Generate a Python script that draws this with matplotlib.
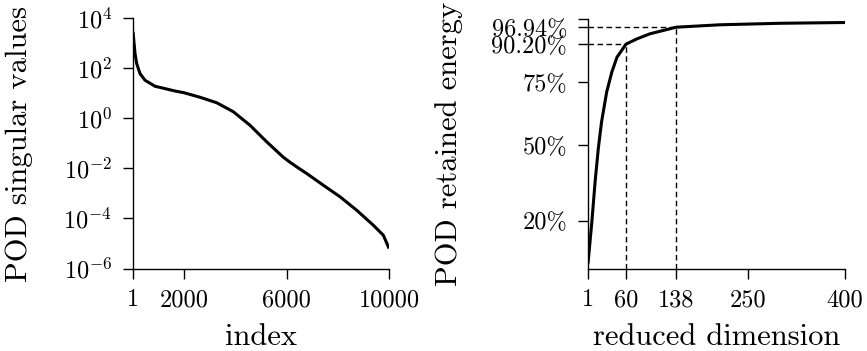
import numpy as np
import matplotlib
matplotlib.use('Agg')
import matplotlib.pyplot as plt
from matplotlib.ticker import FixedLocator, NullLocator

plt.rcParams['font.family'] = 'cmr10'
plt.rcParams['mathtext.fontset'] = 'cm'
plt.rcParams['axes.formatter.use_mathtext'] = True

# singular values
sv_index = [1, 80, 145, 273, 470, 860, 1640, 2000, 2617, 3270, 3920, 4570, 5222,
            5872, 6133, 6458, 6784, 7435, 8086, 8738, 9389, 9779, 9948, 10000]
sv_value = [2950, 398, 158, 63.1, 33.9, 19.5, 12.6, 10.7, 7.08, 4.27, 1.86, 0.537, 0.117,
            0.0282, 0.0178, 0.0105, 6.31e-3, 2.14e-3, 7.41e-4, 2.14e-4, 5.37e-5,
            2.14e-5, 8.51e-6, 6.31e-6]

# retained energy
red_dim = [1, 7, 12, 17, 22, 30, 38, 46, 60, 77, 97, 138, 206, 300, 400]
energy = [0.03, 0.196, 0.354, 0.487, 0.592, 0.712, 0.791, 0.85, 0.902, 0.923,
          0.943, 0.9694, 0.979, 0.985, 0.988]

mark_dim = [60, 138]
mark_energy = [0.902, 0.9694]

left_xticks = [1, 2000, 6000, 10000]
right_xticks = [1, 60, 138, 250, 400]
right_yticks = [0.2, 0.5, 0.75, 0.902, 0.9694, 1.0]
right_ylabels = ['20%', '50%', '75%', '90.20%', '96.94%', '']

fig = plt.figure(figsize=(8.67, 3.51), dpi=100)
ax1 = fig.add_axes([133/867, 82.5/351, 256/867, 250/351])
ax2 = fig.add_axes([588/867, 82.5/351, 257/867, 249/351])

for ax in (ax1, ax2):
    ax.spines['top'].set_visible(False)
    ax.spines['right'].set_visible(False)
    ax.spines['left'].set_linewidth(1.0)
    ax.spines['bottom'].set_linewidth(1.0)
    ax.tick_params(direction='out', length=7, width=1.0, labelsize=17.5, pad=8)

#*** left: singular values
ax1.semilogy(sv_index, sv_value, 'k', lw=2.2, solid_capstyle='butt')
ax1.set_xlim(1, 10000)
ax1.set_ylim(1e-6, 1e4)
ax1.xaxis.set_major_locator(FixedLocator(left_xticks))
ax1.set_xticklabels([str(v) for v in left_xticks])
ax1.yaxis.set_major_locator(FixedLocator([1e-6, 1e-4, 1e-2, 1e0, 1e2, 1e4]))
ax1.yaxis.set_minor_locator(NullLocator())
ax1.set_xlabel('index', fontsize=22)
ax1.set_ylabel('POD singular values', fontsize=22)
ax1.yaxis.set_label_coords(-0.39, 0.5)
ax1.xaxis.set_label_coords(0.5, -0.22)

#*** right: retained energy
ax2.plot(red_dim, energy, 'k', lw=2.2, solid_capstyle='butt')
for d, e in zip(mark_dim, mark_energy):
    ax2.plot([1, d], [e, e], 'k--', lw=1.0, dashes=(4, 2.5))
    ax2.plot([d, d], [0.01, e], 'k--', lw=1.0, dashes=(4, 2.5))
ax2.set_xlim(1, 400)
ax2.set_ylim(0.01, 1.0)
ax2.xaxis.set_major_locator(FixedLocator(right_xticks))
ax2.set_xticklabels([str(v) for v in right_xticks])
ax2.yaxis.set_major_locator(FixedLocator(right_yticks))
ax2.set_yticklabels(right_ylabels)
ax2.set_xlabel('reduced dimension', fontsize=22)
ax2.set_ylabel('POD retained energy', fontsize=22)
ax2.yaxis.set_label_coords(-0.486, 0.5)
ax2.xaxis.set_label_coords(0.5, -0.22)

fig.savefig('out.png', dpi=100)
